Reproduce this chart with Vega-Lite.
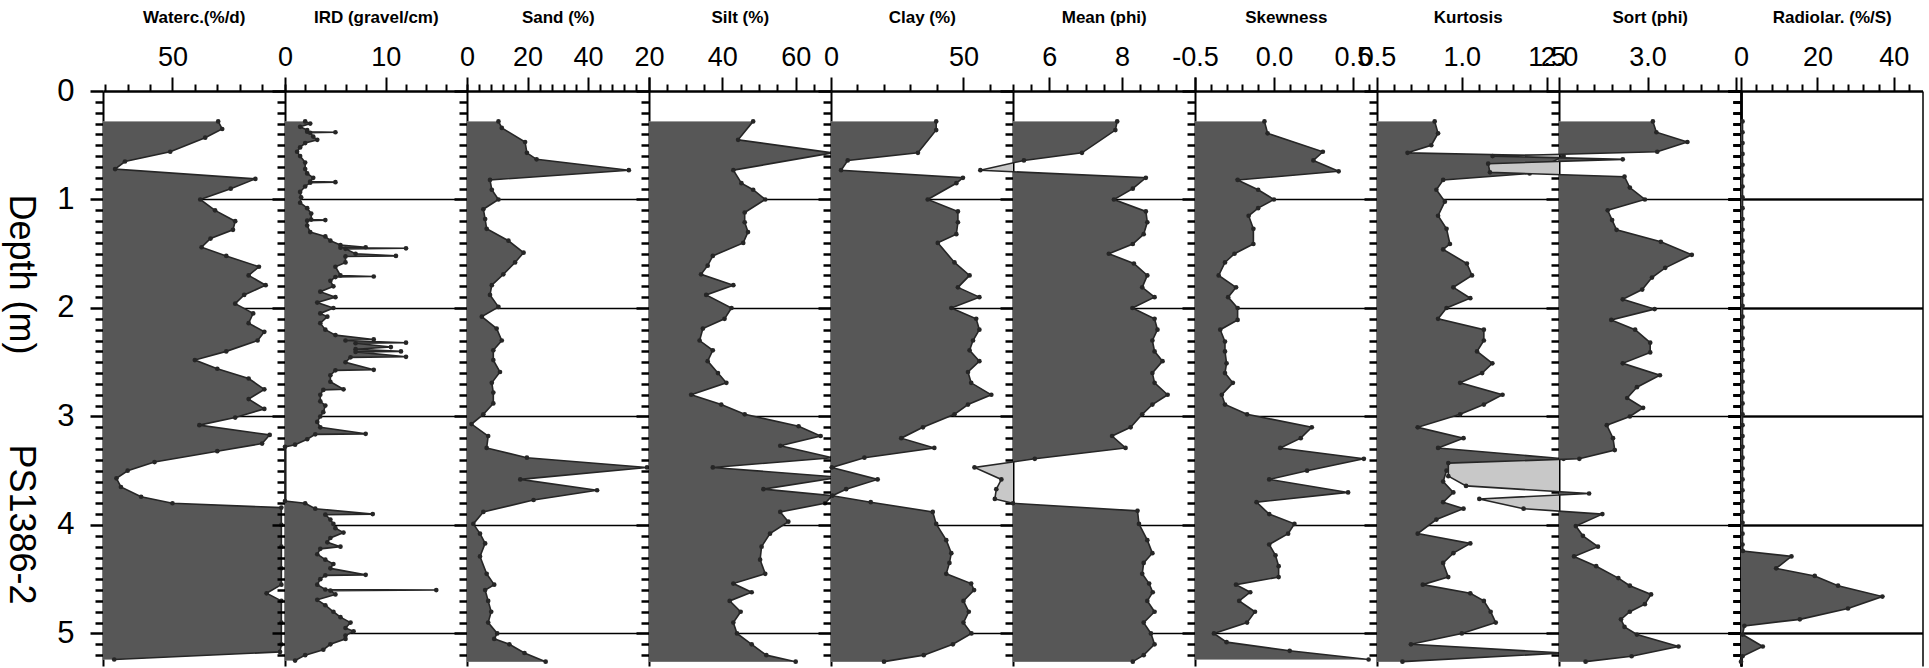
{
  "$schema": "https://vega.github.io/schema/vega-lite/v6.json",
  "padding": {"left": 2, "top": 8, "right": 0, "bottom": 0},
  "spacing": 0,
  "bounds": "flush",
  "config": {
    "view": {"stroke": null},
    "font": "Liberation Sans",
    "axis": {"domainColor": "#000", "tickColor": "#000", "labelColor": "#000", "titleColor": "#000", "labelFlush": false, "labelOverlap": false, "labelBound": false},
    "axisX": {"labelFontSize": 27, "titleFontSize": 17, "titleFontWeight": "bold", "labelPadding": 6, "titlePadding": 17, "tickWidth": 2, "domainWidth": 2.5, "grid": false},
    "axisY": {"tickWidth": 2.5, "domainWidth": 2, "gridColor": "#000", "gridWidth": 1.3}
  },
  "datasets": {
    "waterc": [{"d":0.28,"v":60.2},{"d":0.35,"v":61.1},{"d":0.43,"v":57.3},{"d":0.56,"v":49.5},{"d":0.65,"v":39.4},{"d":0.72,"v":37.2},{"d":0.81,"v":68.5},{"d":0.9,"v":63},{"d":1.0,"v":56.2},{"d":1.1,"v":59.5},{"d":1.2,"v":64},{"d":1.28,"v":63.5},{"d":1.36,"v":58.5},{"d":1.44,"v":56.5},{"d":1.52,"v":62},{"d":1.62,"v":69.3},{"d":1.7,"v":67},{"d":1.79,"v":70.8},{"d":1.88,"v":66},{"d":1.96,"v":64},{"d":2.05,"v":68},{"d":2.14,"v":67},{"d":2.22,"v":70.5},{"d":2.3,"v":69},{"d":2.4,"v":62},{"d":2.48,"v":55},{"d":2.56,"v":60},{"d":2.65,"v":67},{"d":2.75,"v":70.5},{"d":2.84,"v":67},{"d":2.93,"v":70.5},{"d":3.01,"v":64},{"d":3.08,"v":56},{"d":3.17,"v":71.7},{"d":3.25,"v":70},{"d":3.32,"v":60},{"d":3.42,"v":46},{"d":3.5,"v":40},{"d":3.57,"v":37.5},{"d":3.65,"v":38.5},{"d":3.74,"v":43},{"d":3.8,"v":50},{"d":3.84,"v":74.3},{"d":4.0,"v":74.3},{"d":4.2,"v":74.3},{"d":4.4,"v":74.3},{"d":4.55,"v":74.3},{"d":4.63,"v":71},{"d":4.7,"v":74.3},{"d":4.9,"v":74.3},{"d":5.1,"v":74.3},{"d":5.17,"v":74},{"d":5.24,"v":37}],
    "ird": [{"d":0.28,"v":2},{"d":0.3,"v":2.5},{"d":0.33,"v":1.5},{"d":0.36,"v":2.2},{"d":0.375,"v":2.2},{"d":0.38,"v":5},{"d":0.385,"v":2.5},{"d":0.42,"v":2.8},{"d":0.45,"v":3.2},{"d":0.48,"v":2},{"d":0.52,"v":1.5},{"d":0.56,"v":1.2},{"d":0.6,"v":1.5},{"d":0.66,"v":2},{"d":0.72,"v":2},{"d":0.76,"v":2.2},{"d":0.8,"v":2.8},{"d":0.835,"v":2.5},{"d":0.84,"v":5},{"d":0.845,"v":2.5},{"d":0.88,"v":2},{"d":0.93,"v":1.5},{"d":0.98,"v":1.6},{"d":1.03,"v":1.5},{"d":1.08,"v":2.2},{"d":1.13,"v":2.6},{"d":1.185,"v":2.6},{"d":1.19,"v":4},{"d":1.195,"v":2.2},{"d":1.24,"v":2.2},{"d":1.3,"v":2.5},{"d":1.34,"v":4},{"d":1.38,"v":4.5},{"d":1.42,"v":5.5},{"d":1.44,"v":8},{"d":1.445,"v":5.5},{"d":1.45,"v":12},{"d":1.455,"v":6},{"d":1.5,"v":7},{"d":1.52,"v":11},{"d":1.525,"v":6},{"d":1.58,"v":6},{"d":1.62,"v":5},{"d":1.7,"v":5.5},{"d":1.71,"v":8.8},{"d":1.715,"v":5},{"d":1.75,"v":4.5},{"d":1.8,"v":4.8},{"d":1.85,"v":3.5},{"d":1.9,"v":5},{"d":1.95,"v":3.2},{"d":2.0,"v":4.8},{"d":2.05,"v":3.5},{"d":2.08,"v":4.2},{"d":2.14,"v":3.5},{"d":2.2,"v":4},{"d":2.25,"v":5},{"d":2.29,"v":8.8},{"d":2.3,"v":6},{"d":2.32,"v":12},{"d":2.325,"v":7},{"d":2.36,"v":10.5},{"d":2.38,"v":7},{"d":2.4,"v":11.5},{"d":2.405,"v":7},{"d":2.45,"v":12},{"d":2.455,"v":6.5},{"d":2.5,"v":6},{"d":2.57,"v":8.8},{"d":2.575,"v":5},{"d":2.62,"v":4.5},{"d":2.68,"v":4.5},{"d":2.75,"v":5.8},{"d":2.755,"v":3.8},{"d":2.8,"v":3.5},{"d":2.86,"v":3.5},{"d":2.9,"v":4},{"d":2.96,"v":3.8},{"d":3.0,"v":3.5},{"d":3.05,"v":3.2},{"d":3.1,"v":3.5},{"d":3.16,"v":8},{"d":3.165,"v":3},{"d":3.21,"v":2.2},{"d":3.26,"v":1},{"d":3.28,"v":0},{"d":3.78,"v":0},{"d":3.8,"v":2},{"d":3.85,"v":3},{"d":3.9,"v":8.7},{"d":3.905,"v":4},{"d":3.95,"v":4.5},{"d":3.99,"v":4.8},{"d":4.03,"v":5},{"d":4.07,"v":5.8},{"d":4.12,"v":4.5},{"d":4.16,"v":4.2},{"d":4.2,"v":5.5},{"d":4.22,"v":3.5},{"d":4.27,"v":3.2},{"d":4.32,"v":4},{"d":4.36,"v":4.8},{"d":4.4,"v":4.5},{"d":4.46,"v":8},{"d":4.465,"v":4},{"d":4.5,"v":3.5},{"d":4.55,"v":3.2},{"d":4.595,"v":4},{"d":4.6,"v":15},{"d":4.605,"v":4.5},{"d":4.64,"v":5},{"d":4.69,"v":3.2},{"d":4.74,"v":4},{"d":4.8,"v":4.8},{"d":4.85,"v":5.5},{"d":4.9,"v":6.5},{"d":4.95,"v":6},{"d":4.98,"v":6.8},{"d":5.02,"v":6},{"d":5.05,"v":6},{"d":5.1,"v":4.5},{"d":5.15,"v":3.8},{"d":5.2,"v":2},{"d":5.25,"v":1}],
    "sand": [{"d":0.28,"v":10.4},{"d":0.34,"v":11.5},{"d":0.47,"v":19.2},{"d":0.57,"v":19.8},{"d":0.63,"v":23},{"d":0.73,"v":53.5},{"d":0.82,"v":7.6},{"d":0.91,"v":8.2},{"d":1.0,"v":10.4},{"d":1.09,"v":5.4},{"d":1.18,"v":6},{"d":1.27,"v":6.5},{"d":1.38,"v":13.7},{"d":1.49,"v":18.7},{"d":1.58,"v":15.9},{"d":1.69,"v":12},{"d":1.79,"v":8.2},{"d":1.88,"v":7.6},{"d":1.99,"v":10.4},{"d":2.08,"v":4.9},{"d":2.19,"v":9.8},{"d":2.3,"v":11.5},{"d":2.39,"v":8.7},{"d":2.48,"v":8.7},{"d":2.59,"v":10.9},{"d":2.69,"v":8.2},{"d":2.78,"v":8.7},{"d":2.88,"v":8.7},{"d":2.98,"v":5.4},{"d":3.07,"v":1.5},{"d":3.18,"v":7},{"d":3.29,"v":6.5},{"d":3.38,"v":19.8},{"d":3.47,"v":59.5},{"d":3.58,"v":17.6},{"d":3.68,"v":43},{"d":3.77,"v":22},{"d":3.88,"v":5.4},{"d":3.99,"v":2.1},{"d":4.08,"v":4.3},{"d":4.17,"v":6},{"d":4.29,"v":4.3},{"d":4.45,"v":6.5},{"d":4.55,"v":9},{"d":4.6,"v":6},{"d":4.7,"v":7},{"d":4.8,"v":8},{"d":4.9,"v":7},{"d":5.0,"v":10},{"d":5.05,"v":9},{"d":5.1,"v":14},{"d":5.18,"v":19},{"d":5.26,"v":26}],
    "silt": [{"d":0.28,"v":48.4},{"d":0.45,"v":44.3},{"d":0.57,"v":70},{"d":0.73,"v":43},{"d":0.85,"v":45.2},{"d":0.91,"v":48.4},{"d":1.0,"v":51.7},{"d":1.12,"v":46.1},{"d":1.21,"v":46.1},{"d":1.3,"v":47},{"d":1.4,"v":45.7},{"d":1.52,"v":37.4},{"d":1.61,"v":36},{"d":1.69,"v":34.2},{"d":1.79,"v":43},{"d":1.88,"v":35.6},{"d":2.0,"v":42.5},{"d":2.1,"v":40.6},{"d":2.19,"v":34.7},{"d":2.3,"v":33.8},{"d":2.39,"v":37.4},{"d":2.49,"v":36},{"d":2.6,"v":38.8},{"d":2.69,"v":41.1},{"d":2.8,"v":31.5},{"d":2.89,"v":39.7},{"d":2.98,"v":46.1},{"d":3.09,"v":60.8},{"d":3.18,"v":66.8},{"d":3.27,"v":55.8},{"d":3.38,"v":70},{"d":3.47,"v":37.4},{"d":3.56,"v":72},{"d":3.67,"v":51.2},{"d":3.73,"v":70},{"d":3.8,"v":68},{"d":3.88,"v":55.8},{"d":3.97,"v":58},{"d":4.08,"v":53},{"d":4.2,"v":50.7},{"d":4.32,"v":50.3},{"d":4.45,"v":51.7},{"d":4.54,"v":43},{"d":4.62,"v":48},{"d":4.7,"v":42},{"d":4.8,"v":45},{"d":4.9,"v":43},{"d":5.0,"v":44},{"d":5.1,"v":48},{"d":5.2,"v":52},{"d":5.26,"v":60}],
    "clay": [{"d":0.28,"v":39.7},{"d":0.36,"v":39.7},{"d":0.57,"v":32.8},{"d":0.64,"v":6.3},{"d":0.73,"v":3.8},{"d":0.8,"v":49.8},{"d":0.85,"v":47.3},{"d":1.0,"v":36.5},{"d":1.11,"v":47.9},{"d":1.21,"v":47.9},{"d":1.32,"v":47.3},{"d":1.4,"v":40.3},{"d":1.58,"v":46.6},{"d":1.7,"v":52.3},{"d":1.81,"v":47.9},{"d":1.9,"v":56},{"d":2.0,"v":45.4},{"d":2.1,"v":54.8},{"d":2.2,"v":56},{"d":2.3,"v":53.6},{"d":2.39,"v":52.3},{"d":2.49,"v":56},{"d":2.59,"v":51.7},{"d":2.69,"v":52.9},{"d":2.8,"v":60.5},{"d":2.89,"v":51.7},{"d":2.98,"v":46.6},{"d":3.1,"v":34.7},{"d":3.2,"v":26.5},{"d":3.29,"v":39},{"d":3.38,"v":12.6},{"d":3.47,"v":0.3},{"d":3.58,"v":17.6},{"d":3.67,"v":5.7},{"d":3.73,"v":0.5},{"d":3.79,"v":15},{"d":3.88,"v":38.4},{"d":3.99,"v":39.7},{"d":4.14,"v":43.5},{"d":4.26,"v":45.4},{"d":4.35,"v":44.7},{"d":4.45,"v":43.5},{"d":4.54,"v":52.9},{"d":4.6,"v":54},{"d":4.7,"v":50},{"d":4.8,"v":52},{"d":4.9,"v":50},{"d":5.0,"v":53},{"d":5.1,"v":46},{"d":5.2,"v":35},{"d":5.26,"v":20}],
    "mean": [{"d":0.28,"v":7.87},{"d":0.36,"v":7.82},{"d":0.57,"v":6.9},{"d":0.64,"v":5.3},{"d":0.73,"v":4.1},{"d":0.8,"v":8.66},{"d":0.9,"v":8.3},{"d":1.0,"v":7.78},{"d":1.11,"v":8.66},{"d":1.21,"v":8.7},{"d":1.32,"v":8.6},{"d":1.41,"v":8.3},{"d":1.5,"v":7.64},{"d":1.59,"v":8.33},{"d":1.7,"v":8.7},{"d":1.81,"v":8.56},{"d":1.9,"v":8.9},{"d":2.0,"v":8.29},{"d":2.1,"v":8.9},{"d":2.2,"v":8.98},{"d":2.3,"v":8.84},{"d":2.4,"v":8.9},{"d":2.49,"v":9.12},{"d":2.6,"v":8.84},{"d":2.69,"v":8.9},{"d":2.8,"v":9.26},{"d":2.89,"v":8.84},{"d":2.98,"v":8.56},{"d":3.1,"v":8.24},{"d":3.18,"v":7.73},{"d":3.29,"v":8.1},{"d":3.39,"v":5.6},{"d":3.47,"v":3.94},{"d":3.58,"v":4.68},{"d":3.67,"v":4.54},{"d":3.76,"v":4.5},{"d":3.8,"v":5.0},{"d":3.87,"v":8.43},{"d":3.99,"v":8.47},{"d":4.14,"v":8.7},{"d":4.26,"v":8.84},{"d":4.35,"v":8.6},{"d":4.45,"v":8.56},{"d":4.54,"v":8.75},{"d":4.62,"v":8.85},{"d":4.7,"v":8.7},{"d":4.8,"v":8.9},{"d":4.9,"v":8.6},{"d":5.0,"v":8.8},{"d":5.1,"v":8.9},{"d":5.2,"v":8.6},{"d":5.26,"v":8.3}],
    "skew": [{"d":0.28,"v":-0.06},{"d":0.39,"v":-0.04},{"d":0.56,"v":0.31},{"d":0.64,"v":0.25},{"d":0.74,"v":0.41},{"d":0.82,"v":-0.23},{"d":0.91,"v":-0.1},{"d":1.0,"v":0.0},{"d":1.08,"v":-0.1},{"d":1.15,"v":-0.16},{"d":1.27,"v":-0.13},{"d":1.41,"v":-0.13},{"d":1.5,"v":-0.25},{"d":1.58,"v":-0.31},{"d":1.7,"v":-0.35},{"d":1.81,"v":-0.24},{"d":1.9,"v":-0.29},{"d":2.0,"v":-0.23},{"d":2.11,"v":-0.23},{"d":2.2,"v":-0.34},{"d":2.31,"v":-0.31},{"d":2.4,"v":-0.31},{"d":2.51,"v":-0.3},{"d":2.6,"v":-0.31},{"d":2.69,"v":-0.26},{"d":2.8,"v":-0.33},{"d":2.89,"v":-0.31},{"d":2.98,"v":-0.17},{"d":3.1,"v":0.24},{"d":3.2,"v":0.17},{"d":3.29,"v":0.04},{"d":3.39,"v":0.57},{"d":3.5,"v":0.21},{"d":3.58,"v":-0.03},{"d":3.7,"v":0.47},{"d":3.79,"v":-0.11},{"d":3.9,"v":-0.03},{"d":3.99,"v":0.13},{"d":4.08,"v":0.09},{"d":4.18,"v":-0.03},{"d":4.28,"v":0.01},{"d":4.38,"v":0.03},{"d":4.48,"v":0.03},{"d":4.55,"v":-0.24},{"d":4.62,"v":-0.15},{"d":4.7,"v":-0.22},{"d":4.8,"v":-0.12},{"d":4.9,"v":-0.17},{"d":5.0,"v":-0.38},{"d":5.08,"v":-0.3},{"d":5.16,"v":0.1},{"d":5.24,"v":0.6}],
    "kurt": [{"d":0.28,"v":0.84},{"d":0.39,"v":0.86},{"d":0.5,"v":0.82},{"d":0.57,"v":0.68},{"d":0.6,"v":1.6},{"d":0.68,"v":1.5},{"d":0.76,"v":1.4},{"d":0.82,"v":0.89},{"d":0.91,"v":0.85},{"d":1.02,"v":0.9},{"d":1.15,"v":0.86},{"d":1.27,"v":0.91},{"d":1.41,"v":0.93},{"d":1.46,"v":0.89},{"d":1.59,"v":1.03},{"d":1.7,"v":1.06},{"d":1.81,"v":0.95},{"d":1.91,"v":1.05},{"d":2.0,"v":0.91},{"d":2.1,"v":0.86},{"d":2.2,"v":1.13},{"d":2.3,"v":1.13},{"d":2.4,"v":1.09},{"d":2.51,"v":1.18},{"d":2.6,"v":1.12},{"d":2.69,"v":0.99},{"d":2.8,"v":1.24},{"d":2.89,"v":1.13},{"d":2.98,"v":0.99},{"d":3.1,"v":0.74},{"d":3.2,"v":1.01},{"d":3.29,"v":0.86},{"d":3.39,"v":1.6},{"d":3.5,"v":0.91},{"d":3.6,"v":0.89},{"d":3.7,"v":0.95},{"d":3.79,"v":0.89},{"d":3.85,"v":1.01},{"d":3.95,"v":0.85},{"d":4.08,"v":0.74},{"d":4.17,"v":1.05},{"d":4.26,"v":0.95},{"d":4.35,"v":0.89},{"d":4.48,"v":0.92},{"d":4.55,"v":0.77},{"d":4.63,"v":1.05},{"d":4.7,"v":1.13},{"d":4.8,"v":1.17},{"d":4.9,"v":1.2},{"d":5.0,"v":1.0},{"d":5.1,"v":0.7},{"d":5.18,"v":1.6},{"d":5.26,"v":0.65}],
    "sort": [{"d":0.28,"v":3.06},{"d":0.38,"v":3.1},{"d":0.47,"v":3.45},{"d":0.56,"v":3.11},{"d":0.6,"v":1.25},{"d":0.63,"v":2.72},{"d":0.67,"v":1.2},{"d":0.75,"v":1.22},{"d":0.79,"v":2.74},{"d":0.89,"v":2.8},{"d":1.0,"v":2.97},{"d":1.1,"v":2.55},{"d":1.19,"v":2.6},{"d":1.28,"v":2.65},{"d":1.39,"v":3.15},{"d":1.51,"v":3.5},{"d":1.63,"v":3.2},{"d":1.72,"v":3.05},{"d":1.83,"v":2.94},{"d":1.92,"v":2.72},{"d":2.01,"v":3.08},{"d":2.11,"v":2.59},{"d":2.2,"v":2.86},{"d":2.32,"v":3.03},{"d":2.41,"v":3.03},{"d":2.51,"v":2.72},{"d":2.62,"v":3.14},{"d":2.73,"v":2.88},{"d":2.83,"v":2.77},{"d":2.92,"v":2.95},{"d":3.0,"v":2.8},{"d":3.08,"v":2.54},{"d":3.2,"v":2.61},{"d":3.31,"v":2.63},{"d":3.39,"v":2.23},{"d":3.43,"v":0.75},{"d":3.55,"v":0.75},{"d":3.64,"v":0.95},{"d":3.71,"v":2.34},{"d":3.76,"v":1.1},{"d":3.85,"v":1.6},{"d":3.9,"v":2.49},{"d":4.01,"v":2.19},{"d":4.1,"v":2.27},{"d":4.2,"v":2.44},{"d":4.29,"v":2.17},{"d":4.38,"v":2.42},{"d":4.49,"v":2.67},{"d":4.56,"v":2.8},{"d":4.64,"v":3.04},{"d":4.73,"v":2.97},{"d":4.8,"v":2.8},{"d":4.87,"v":2.7},{"d":4.94,"v":2.74},{"d":5.01,"v":2.88},{"d":5.12,"v":3.35},{"d":5.21,"v":2.82},{"d":5.26,"v":2.3}],
    "rad": [{"d":0.28,"v":0.4},{"d":0.38,"v":0.4},{"d":0.48,"v":0.4},{"d":0.58,"v":0.4},{"d":0.68,"v":0.4},{"d":0.78,"v":0.4},{"d":0.88,"v":0.4},{"d":0.98,"v":0.4},{"d":1.08,"v":0.4},{"d":1.18,"v":0.4},{"d":1.28,"v":0.4},{"d":1.38,"v":0.4},{"d":1.48,"v":0.4},{"d":1.58,"v":0.4},{"d":1.68,"v":0.4},{"d":1.78,"v":0.4},{"d":1.88,"v":0.4},{"d":1.98,"v":0.4},{"d":2.08,"v":0.4},{"d":2.18,"v":0.4},{"d":2.28,"v":0.4},{"d":2.38,"v":0.4},{"d":2.48,"v":0.4},{"d":2.58,"v":0.4},{"d":2.68,"v":0.4},{"d":2.78,"v":0.4},{"d":2.88,"v":0.4},{"d":2.98,"v":0.4},{"d":3.08,"v":0.4},{"d":3.18,"v":0.4},{"d":3.28,"v":0.4},{"d":3.38,"v":0.4},{"d":3.48,"v":0.4},{"d":3.58,"v":0.4},{"d":3.68,"v":0.4},{"d":3.78,"v":0.4},{"d":3.88,"v":0.4},{"d":3.98,"v":0.4},{"d":4.08,"v":0.4},{"d":4.18,"v":0.4},{"d":4.24,"v":0.5},{"d":4.29,"v":13.2},{"d":4.4,"v":9.2},{"d":4.47,"v":19.3},{"d":4.56,"v":25.4},{"d":4.66,"v":37},{"d":4.77,"v":28},{"d":4.87,"v":15.4},{"d":4.93,"v":0.9},{"d":5.01,"v":0.4},{"d":5.12,"v":5.7},{"d":5.21,"v":0.4},{"d":5.26,"v":0}]
  },
  "hconcat": [
    {
      "width": 181.5, "height": 575,
      "data": {"name": "waterc"},
      "encoding": {
        "y": {"field": "d", "type": "quantitative", "scale": {"domain": [0, 5.3], "reverse": true, "nice": false, "zero": false},
          "axis": {"orient": "left", "values": [0,0.1,0.2,0.3,0.4,0.5,0.6,0.7,0.8,0.9,1,1.1,1.2,1.3,1.4,1.5,1.6,1.7,1.8,1.9,2,2.1,2.2,2.3,2.4,2.5,2.6,2.7,2.8,2.9,3,3.1,3.2,3.3,3.4,3.5,3.6,3.7,3.8,3.9,4,4.1,4.2,4.3,4.4,4.5,4.6,4.7,4.8,4.9,5,5.1,5.2],
            "labelExpr": "abs(datum.value-round(datum.value))<0.001 ? format(datum.value,'d') : ''", "labelFontSize": 31, "labelPadding": 16,
            "title": "Depth (m)\u00a0\u00a0\u00a0\u00a0\u00a0\u00a0\u00a0\u00a0\u00a0PS1386-2", "titleAngle": 90, "titleFontSize": 36, "titleFontWeight": "normal", "titlePadding": 55, "titleY": 308, "titleAlign": "center",
            "tickSize": {"condition": {"test": "abs(datum.value-round(datum.value))<0.001", "value": 13}, "value": 8},
            "grid": true, "gridOpacity": {"condition": {"test": "abs(datum.value-round(datum.value))<0.001 && datum.value>0.5", "value": 1}, "value": 0}}},
        "x": {"field": "v", "type": "quantitative", "scale": {"domain": [34.5, 75], "nice": false, "zero": false},
          "axis": {"orient": "top", "title": "Waterc.(%/d)", "values": [35,40,45,50,55,60,65,70,75], "labelExpr": "abs(datum.value-50)<0.01 ? '50' : ''",
            "tickSize": {"condition": {"test": "abs(datum.value-50)<0.01", "value": 14}, "value": 7}}}
      },
      "layer": [
        {"mark": {"type": "area", "orient": "horizontal", "color": "#c8c8c8", "clip": false}, "encoding": {"x2": {"datum": 34.5}}},
        {"mark": {"type": "area", "orient": "horizontal", "color": "#575757", "clip": true}, "encoding": {"x2": {"datum": 34.5}}},
        {"mark": {"type": "line", "color": "#262626", "strokeWidth": 1.6}, "encoding": {"order": {"field": "d", "type": "quantitative"}}},
        {"mark": {"type": "point", "filled": true, "color": "#262626", "size": 22, "opacity": 1}}
      ]
    },
    {
      "width": 181.5, "height": 575,
      "data": {"name": "ird"},
      "encoding": {
        "y": {"field": "d", "type": "quantitative", "scale": {"domain": [0, 5.3], "reverse": true, "nice": false, "zero": false},
          "axis": {"orient": "left", "values": [0,0.1,0.2,0.3,0.4,0.5,0.6,0.7,0.8,0.9,1,1.1,1.2,1.3,1.4,1.5,1.6,1.7,1.8,1.9,2,2.1,2.2,2.3,2.4,2.5,2.6,2.7,2.8,2.9,3,3.1,3.2,3.3,3.4,3.5,3.6,3.7,3.8,3.9,4,4.1,4.2,4.3,4.4,4.5,4.6,4.7,4.8,4.9,5,5.1,5.2], "labels": false, "title": null,
            "tickSize": {"condition": {"test": "abs(datum.value-round(datum.value))<0.001", "value": 13}, "value": 8},
            "grid": true, "gridOpacity": {"condition": {"test": "abs(datum.value-round(datum.value))<0.001 && datum.value>0.5", "value": 1}, "value": 0}}},
        "x": {"field": "v", "type": "quantitative", "scale": {"domain": [0, 18], "nice": false, "zero": false},
          "axis": {"orient": "top", "title": "IRD  (gravel/cm)", "values": [0,2,4,6,8,10,12,14,16,18], "labelExpr": "abs(datum.value/10-round(datum.value/10))<0.001 && datum.value<15 ? format(datum.value,'d') : ''",
            "tickSize": {"condition": {"test": "abs(datum.value/10-round(datum.value/10))<0.001", "value": 14}, "value": 7}}}
      },
      "layer": [
        {"mark": {"type": "area", "orient": "horizontal", "color": "#c8c8c8", "clip": false}, "encoding": {"x2": {"datum": 0}}},
        {"mark": {"type": "area", "orient": "horizontal", "color": "#575757", "clip": true}, "encoding": {"x2": {"datum": 0}}},
        {"mark": {"type": "line", "color": "#262626", "strokeWidth": 1.6}, "encoding": {"order": {"field": "d", "type": "quantitative"}}},
        {"mark": {"type": "point", "filled": true, "color": "#262626", "size": 22, "opacity": 1}}
      ]
    },
    {
      "width": 181.5, "height": 575,
      "data": {"name": "sand"},
      "encoding": {
        "y": {"field": "d", "type": "quantitative", "scale": {"domain": [0, 5.3], "reverse": true, "nice": false, "zero": false},
          "axis": {"orient": "left", "values": [0,0.1,0.2,0.3,0.4,0.5,0.6,0.7,0.8,0.9,1,1.1,1.2,1.3,1.4,1.5,1.6,1.7,1.8,1.9,2,2.1,2.2,2.3,2.4,2.5,2.6,2.7,2.8,2.9,3,3.1,3.2,3.3,3.4,3.5,3.6,3.7,3.8,3.9,4,4.1,4.2,4.3,4.4,4.5,4.6,4.7,4.8,4.9,5,5.1,5.2], "labels": false, "title": null,
            "tickSize": {"condition": {"test": "abs(datum.value-round(datum.value))<0.001", "value": 13}, "value": 8},
            "grid": true, "gridOpacity": {"condition": {"test": "abs(datum.value-round(datum.value))<0.001 && datum.value>0.5", "value": 1}, "value": 0}}},
        "x": {"field": "v", "type": "quantitative", "scale": {"domain": [0, 60], "nice": false, "zero": false},
          "axis": {"orient": "top", "title": "Sand (%)", "values": [0,4,8,12,16,20,24,28,32,36,40,44,48,52,56,60], "labelExpr": "abs(datum.value/20-round(datum.value/20))<0.001 && datum.value<50 ? format(datum.value,'d') : ''",
            "tickSize": {"condition": {"test": "abs(datum.value/20-round(datum.value/20))<0.001", "value": 14}, "value": 7}}}
      },
      "layer": [
        {"mark": {"type": "area", "orient": "horizontal", "color": "#c8c8c8", "clip": false}, "encoding": {"x2": {"datum": 0}}},
        {"mark": {"type": "area", "orient": "horizontal", "color": "#575757", "clip": true}, "encoding": {"x2": {"datum": 0}}},
        {"mark": {"type": "line", "color": "#262626", "strokeWidth": 1.6}, "encoding": {"order": {"field": "d", "type": "quantitative"}}},
        {"mark": {"type": "point", "filled": true, "color": "#262626", "size": 22, "opacity": 1}}
      ]
    },
    {
      "width": 181.5, "height": 575,
      "data": {"name": "silt"},
      "encoding": {
        "y": {"field": "d", "type": "quantitative", "scale": {"domain": [0, 5.3], "reverse": true, "nice": false, "zero": false},
          "axis": {"orient": "left", "values": [0,0.1,0.2,0.3,0.4,0.5,0.6,0.7,0.8,0.9,1,1.1,1.2,1.3,1.4,1.5,1.6,1.7,1.8,1.9,2,2.1,2.2,2.3,2.4,2.5,2.6,2.7,2.8,2.9,3,3.1,3.2,3.3,3.4,3.5,3.6,3.7,3.8,3.9,4,4.1,4.2,4.3,4.4,4.5,4.6,4.7,4.8,4.9,5,5.1,5.2], "labels": false, "title": null,
            "tickSize": {"condition": {"test": "abs(datum.value-round(datum.value))<0.001", "value": 13}, "value": 8},
            "grid": true, "gridOpacity": {"condition": {"test": "abs(datum.value-round(datum.value))<0.001 && datum.value>0.5", "value": 1}, "value": 0}}},
        "x": {"field": "v", "type": "quantitative", "scale": {"domain": [20, 69.5], "nice": false, "zero": false},
          "axis": {"orient": "top", "title": "Silt (%)", "values": [20,25,30,35,40,45,50,55,60,65], "labelExpr": "abs(datum.value/20-round(datum.value/20))<0.001 ? format(datum.value,'d') : ''",
            "tickSize": {"condition": {"test": "abs(datum.value/20-round(datum.value/20))<0.001", "value": 14}, "value": 7}}}
      },
      "layer": [
        {"mark": {"type": "area", "orient": "horizontal", "color": "#c8c8c8", "clip": false}, "encoding": {"x2": {"datum": 20}}},
        {"mark": {"type": "area", "orient": "horizontal", "color": "#575757", "clip": true}, "encoding": {"x2": {"datum": 20}}},
        {"mark": {"type": "line", "color": "#262626", "strokeWidth": 1.6}, "encoding": {"order": {"field": "d", "type": "quantitative"}}},
        {"mark": {"type": "point", "filled": true, "color": "#262626", "size": 22, "opacity": 1}}
      ]
    },
    {
      "width": 181.5, "height": 575,
      "data": {"name": "clay"},
      "encoding": {
        "y": {"field": "d", "type": "quantitative", "scale": {"domain": [0, 5.3], "reverse": true, "nice": false, "zero": false},
          "axis": {"orient": "left", "values": [0,0.1,0.2,0.3,0.4,0.5,0.6,0.7,0.8,0.9,1,1.1,1.2,1.3,1.4,1.5,1.6,1.7,1.8,1.9,2,2.1,2.2,2.3,2.4,2.5,2.6,2.7,2.8,2.9,3,3.1,3.2,3.3,3.4,3.5,3.6,3.7,3.8,3.9,4,4.1,4.2,4.3,4.4,4.5,4.6,4.7,4.8,4.9,5,5.1,5.2], "labels": false, "title": null,
            "tickSize": {"condition": {"test": "abs(datum.value-round(datum.value))<0.001", "value": 13}, "value": 8},
            "grid": true, "gridOpacity": {"condition": {"test": "abs(datum.value-round(datum.value))<0.001 && datum.value>0.5", "value": 1}, "value": 0}}},
        "x": {"field": "v", "type": "quantitative", "scale": {"domain": [0, 68.5], "nice": false, "zero": false},
          "axis": {"orient": "top", "title": "Clay (%)", "values": [0,10,20,30,40,50,60], "labelExpr": "abs(datum.value/50-round(datum.value/50))<0.001 ? format(datum.value,'d') : ''",
            "tickSize": {"condition": {"test": "abs(datum.value/50-round(datum.value/50))<0.001", "value": 14}, "value": 7}}}
      },
      "layer": [
        {"mark": {"type": "area", "orient": "horizontal", "color": "#c8c8c8", "clip": false}, "encoding": {"x2": {"datum": 0}}},
        {"mark": {"type": "area", "orient": "horizontal", "color": "#575757", "clip": true}, "encoding": {"x2": {"datum": 0}}},
        {"mark": {"type": "line", "color": "#262626", "strokeWidth": 1.6}, "encoding": {"order": {"field": "d", "type": "quantitative"}}},
        {"mark": {"type": "point", "filled": true, "color": "#262626", "size": 22, "opacity": 1}}
      ]
    },
    {
      "width": 181.5, "height": 575,
      "data": {"name": "mean"},
      "encoding": {
        "y": {"field": "d", "type": "quantitative", "scale": {"domain": [0, 5.3], "reverse": true, "nice": false, "zero": false},
          "axis": {"orient": "left", "values": [0,0.1,0.2,0.3,0.4,0.5,0.6,0.7,0.8,0.9,1,1.1,1.2,1.3,1.4,1.5,1.6,1.7,1.8,1.9,2,2.1,2.2,2.3,2.4,2.5,2.6,2.7,2.8,2.9,3,3.1,3.2,3.3,3.4,3.5,3.6,3.7,3.8,3.9,4,4.1,4.2,4.3,4.4,4.5,4.6,4.7,4.8,4.9,5,5.1,5.2], "labels": false, "title": null,
            "tickSize": {"condition": {"test": "abs(datum.value-round(datum.value))<0.001", "value": 13}, "value": 8},
            "grid": true, "gridOpacity": {"condition": {"test": "abs(datum.value-round(datum.value))<0.001 && datum.value>0.5", "value": 1}, "value": 0}}},
        "x": {"field": "v", "type": "quantitative", "scale": {"domain": [5, 10], "nice": false, "zero": false},
          "axis": {"orient": "top", "title": "Mean (phi)", "values": [5,5.5,6,6.5,7,7.5,8,8.5,9,9.5,10], "labelExpr": "abs(datum.value/2-round(datum.value/2))<0.001 && datum.value<9.5 ? format(datum.value,'d') : ''",
            "tickSize": {"condition": {"test": "abs(datum.value/2-round(datum.value/2))<0.001", "value": 14}, "value": 7}}}
      },
      "layer": [
        {"mark": {"type": "area", "orient": "horizontal", "color": "#c8c8c8", "clip": false}, "encoding": {"x2": {"datum": 5}}},
        {"mark": {"type": "area", "orient": "horizontal", "color": "#575757", "clip": true}, "encoding": {"x2": {"datum": 5}}},
        {"mark": {"type": "line", "color": "#262626", "strokeWidth": 1.6}, "encoding": {"order": {"field": "d", "type": "quantitative"}}},
        {"mark": {"type": "point", "filled": true, "color": "#262626", "size": 22, "opacity": 1}}
      ]
    },
    {
      "width": 181.5, "height": 575,
      "data": {"name": "skew"},
      "encoding": {
        "y": {"field": "d", "type": "quantitative", "scale": {"domain": [0, 5.3], "reverse": true, "nice": false, "zero": false},
          "axis": {"orient": "left", "values": [0,0.1,0.2,0.3,0.4,0.5,0.6,0.7,0.8,0.9,1,1.1,1.2,1.3,1.4,1.5,1.6,1.7,1.8,1.9,2,2.1,2.2,2.3,2.4,2.5,2.6,2.7,2.8,2.9,3,3.1,3.2,3.3,3.4,3.5,3.6,3.7,3.8,3.9,4,4.1,4.2,4.3,4.4,4.5,4.6,4.7,4.8,4.9,5,5.1,5.2], "labels": false, "title": null,
            "tickSize": {"condition": {"test": "abs(datum.value-round(datum.value))<0.001", "value": 13}, "value": 8},
            "grid": true, "gridOpacity": {"condition": {"test": "abs(datum.value-round(datum.value))<0.001 && datum.value>0.5", "value": 1}, "value": 0}}},
        "x": {"field": "v", "type": "quantitative", "scale": {"domain": [-0.5, 0.65], "nice": false, "zero": false},
          "axis": {"orient": "top", "title": "Skewness", "values": [-0.5,-0.4,-0.3,-0.2,-0.1,0,0.1,0.2,0.3,0.4,0.5,0.6], "labelExpr": "abs(datum.value*2-round(datum.value*2))<0.001 ? replace(format(datum.value,'.1f'),'\u2212','-') : ''",
            "tickSize": {"condition": {"test": "abs(datum.value*2-round(datum.value*2))<0.001", "value": 14}, "value": 7}}}
      },
      "layer": [
        {"mark": {"type": "area", "orient": "horizontal", "color": "#c8c8c8", "clip": false}, "encoding": {"x2": {"datum": -0.5}}},
        {"mark": {"type": "area", "orient": "horizontal", "color": "#575757", "clip": true}, "encoding": {"x2": {"datum": -0.5}}},
        {"mark": {"type": "line", "color": "#262626", "strokeWidth": 1.6}, "encoding": {"order": {"field": "d", "type": "quantitative"}}},
        {"mark": {"type": "point", "filled": true, "color": "#262626", "size": 22, "opacity": 1}}
      ]
    },
    {
      "width": 181.5, "height": 575,
      "data": {"name": "kurt"},
      "encoding": {
        "y": {"field": "d", "type": "quantitative", "scale": {"domain": [0, 5.3], "reverse": true, "nice": false, "zero": false},
          "axis": {"orient": "left", "values": [0,0.1,0.2,0.3,0.4,0.5,0.6,0.7,0.8,0.9,1,1.1,1.2,1.3,1.4,1.5,1.6,1.7,1.8,1.9,2,2.1,2.2,2.3,2.4,2.5,2.6,2.7,2.8,2.9,3,3.1,3.2,3.3,3.4,3.5,3.6,3.7,3.8,3.9,4,4.1,4.2,4.3,4.4,4.5,4.6,4.7,4.8,4.9,5,5.1,5.2], "labels": false, "title": null,
            "tickSize": {"condition": {"test": "abs(datum.value-round(datum.value))<0.001", "value": 13}, "value": 8},
            "grid": true, "gridOpacity": {"condition": {"test": "abs(datum.value-round(datum.value))<0.001 && datum.value>0.5", "value": 1}, "value": 0}}},
        "x": {"field": "v", "type": "quantitative", "scale": {"domain": [0.5, 1.57], "nice": false, "zero": false},
          "axis": {"orient": "top", "title": "Kurtosis", "values": [0.5,0.6,0.7,0.8,0.9,1,1.1,1.2,1.3,1.4,1.5], "labelExpr": "abs(datum.value*2-round(datum.value*2))<0.001 ? format(datum.value,'.1f') : ''",
            "tickSize": {"condition": {"test": "abs(datum.value*2-round(datum.value*2))<0.001", "value": 14}, "value": 7}}}
      },
      "layer": [
        {"mark": {"type": "area", "orient": "horizontal", "color": "#c8c8c8", "clip": false}, "encoding": {"x2": {"datum": 0.5}}},
        {"mark": {"type": "area", "orient": "horizontal", "color": "#575757", "clip": true}, "encoding": {"x2": {"datum": 0.5}}},
        {"mark": {"type": "line", "color": "#262626", "strokeWidth": 1.6}, "encoding": {"order": {"field": "d", "type": "quantitative"}}},
        {"mark": {"type": "point", "filled": true, "color": "#262626", "size": 22, "opacity": 1}}
      ]
    },
    {
      "width": 181.5, "height": 575,
      "data": {"name": "sort"},
      "encoding": {
        "y": {"field": "d", "type": "quantitative", "scale": {"domain": [0, 5.3], "reverse": true, "nice": false, "zero": false},
          "axis": {"orient": "left", "values": [0,0.1,0.2,0.3,0.4,0.5,0.6,0.7,0.8,0.9,1,1.1,1.2,1.3,1.4,1.5,1.6,1.7,1.8,1.9,2,2.1,2.2,2.3,2.4,2.5,2.6,2.7,2.8,2.9,3,3.1,3.2,3.3,3.4,3.5,3.6,3.7,3.8,3.9,4,4.1,4.2,4.3,4.4,4.5,4.6,4.7,4.8,4.9,5,5.1,5.2], "labels": false, "title": null,
            "tickSize": {"condition": {"test": "abs(datum.value-round(datum.value))<0.001", "value": 13}, "value": 8},
            "grid": true, "gridOpacity": {"condition": {"test": "abs(datum.value-round(datum.value))<0.001 && datum.value>0.5", "value": 1}, "value": 0}}},
        "x": {"field": "v", "type": "quantitative", "scale": {"domain": [2, 4.05], "nice": false, "zero": false},
          "axis": {"orient": "top", "title": "Sort (phi)", "values": [2,2.2,2.4,2.6,2.8,3,3.2,3.4,3.6,3.8,4], "labelExpr": "abs(datum.value-round(datum.value))<0.001 && datum.value<3.5 ? format(datum.value,'.1f') : ''",
            "tickSize": {"condition": {"test": "abs(datum.value-round(datum.value))<0.001", "value": 14}, "value": 7}}}
      },
      "layer": [
        {"mark": {"type": "area", "orient": "horizontal", "color": "#c8c8c8", "clip": false}, "encoding": {"x2": {"datum": 2}}},
        {"mark": {"type": "area", "orient": "horizontal", "color": "#575757", "clip": true}, "encoding": {"x2": {"datum": 2}}},
        {"mark": {"type": "line", "color": "#262626", "strokeWidth": 1.6}, "encoding": {"order": {"field": "d", "type": "quantitative"}}},
        {"mark": {"type": "point", "filled": true, "color": "#262626", "size": 22, "opacity": 1}}
      ]
    },
    {
      "width": 181.5, "height": 575,
      "data": {"name": "rad"},
      "encoding": {
        "y": {"field": "d", "type": "quantitative", "scale": {"domain": [0, 5.3], "reverse": true, "nice": false, "zero": false},
          "axis": {"orient": "left", "values": [0,0.1,0.2,0.3,0.4,0.5,0.6,0.7,0.8,0.9,1,1.1,1.2,1.3,1.4,1.5,1.6,1.7,1.8,1.9,2,2.1,2.2,2.3,2.4,2.5,2.6,2.7,2.8,2.9,3,3.1,3.2,3.3,3.4,3.5,3.6,3.7,3.8,3.9,4,4.1,4.2,4.3,4.4,4.5,4.6,4.7,4.8,4.9,5,5.1,5.2], "labels": false, "title": null,
            "tickSize": {"condition": {"test": "abs(datum.value-round(datum.value))<0.001", "value": 13}, "value": 8},
            "grid": true, "gridOpacity": {"condition": {"test": "abs(datum.value-round(datum.value))<0.001 && datum.value>0.5", "value": 1}, "value": 0}}},
        "x": {"field": "v", "type": "quantitative", "scale": {"domain": [0, 47.5], "nice": false, "zero": false},
          "axis": {"orient": "top", "title": "Radiolar. (%/S)", "values": [0,4,8,12,16,20,24,28,32,36,40,44], "labelExpr": "abs(datum.value/20-round(datum.value/20))<0.001 ? format(datum.value,'d') : ''",
            "tickSize": {"condition": {"test": "abs(datum.value/20-round(datum.value/20))<0.001", "value": 14}, "value": 7}}}
      },
      "layer": [
        {"mark": {"type": "area", "orient": "horizontal", "color": "#c8c8c8", "clip": false}, "encoding": {"x2": {"datum": 0}}},
        {"mark": {"type": "area", "orient": "horizontal", "color": "#575757", "clip": true}, "encoding": {"x2": {"datum": 0}}},
        {"mark": {"type": "line", "color": "#262626", "strokeWidth": 1.6}, "encoding": {"order": {"field": "d", "type": "quantitative"}}},
        {"mark": {"type": "point", "filled": true, "color": "#262626", "size": 22, "opacity": 1}},
        {"mark": {"type": "point", "opacity": 0},
          "encoding": {"y": {"field": "d", "type": "quantitative", "axis": {"orient": "right", "ticks": false, "labels": false, "grid": false, "domainWidth": 1.5, "title": "AWI\u00a0\u00a0\u00a0SEDAN\u00a0\u00a0\u00a0SMW/1-90\u00a0\u00a0\u00a0Scale\u00a01:10", "titleAngle": 90, "titleFontSize": 16, "titleFontWeight": "bold", "titlePadding": 4, "titleAnchor": "start"}}}}
      ],
      "resolve": {"axis": {"y": "independent"}}
    }
  ]
}
